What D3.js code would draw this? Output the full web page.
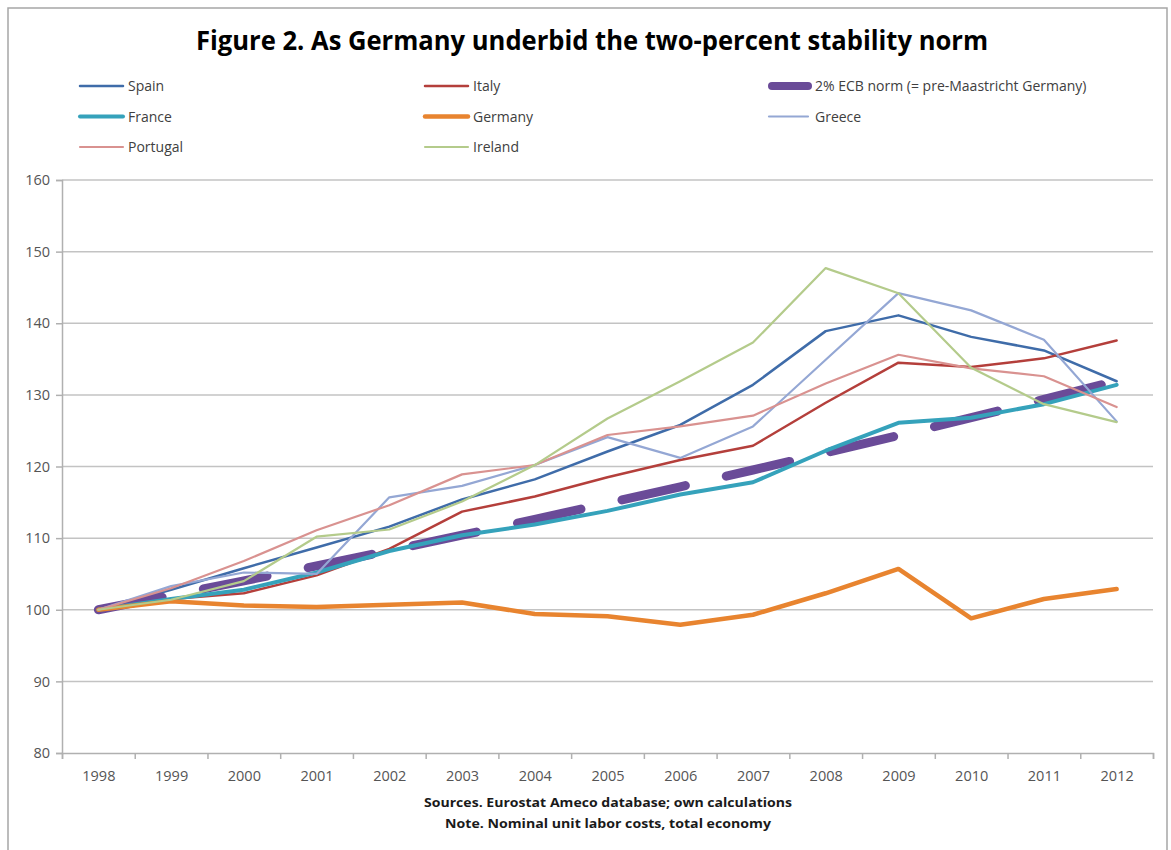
<!DOCTYPE html>
<html>
<head>
<meta charset="utf-8">
<script src="https://cdn.jsdelivr.net/npm/d3@7"></script>
<style>
  body { margin: 0; background: #fff; }
  svg { display: block; font-family: "Open Sans", sans-serif; }
</style>
</head>
<body>
<div class="chart"></div>
<script>
// data
const years = ['1998', '1999', '2000', '2001', '2002', '2003', '2004', '2005',
  '2006', '2007', '2008', '2009', '2010', '2011', '2012'];
const yTicks = [80, 90, 100, 110, 120, 130, 140, 150, 160];

const spain = [100, 102.8, 105.8, 108.7, 111.6, 115.4, 118.2, 122.1, 125.8, 131.4, 138.9, 141.1, 138.1, 136.2, 131.9];
const italy = [100, 101.5, 102.3, 104.8, 108.5, 113.7, 115.8, 118.5, 120.9, 122.9, 128.9, 134.5, 133.9, 135.1, 137.6];
const norm = [100, 102, 104.04, 106.12, 108.24, 110.41, 112.62, 114.87, 117.17, 119.51, 121.9, 124.34, 126.82, 129.36, 131.95];
const france = [100, 101.5, 102.8, 105.2, 108.2, 110.4, 111.9, 113.8, 116.1, 117.8, 122.2, 126.1, 126.8, 128.7, 131.4];
const germany = [100, 101.2, 100.6, 100.4, 100.7, 101.0, 99.4, 99.1, 97.9, 99.3, 102.3, 105.7, 98.8, 101.5, 102.9];
const greece = [100, 103.3, 105.2, 105.0, 115.7, 117.3, 120.2, 124.1, 121.2, 125.6, 134.9, 144.2, 141.8, 137.7, 126.3];
const portugal = [100, 103.0, 106.8, 111.1, 114.6, 118.9, 120.2, 124.4, 125.6, 127.1, 131.6, 135.6, 133.7, 132.6, 128.3];
const ireland = [100, 101.4, 104.0, 110.2, 111.2, 115.1, 120.2, 126.7, 131.9, 137.3, 147.7, 144.2, 133.8, 128.7, 126.2];

// series in legend order (row by row)
const series = [
  { name: 'Spain', values: spain, color: '#3f6ca9', width: 2.5 },
  { name: 'Italy', values: italy, color: '#b43f3b', width: 2.5 },
  { name: '2% ECB norm (= pre-Maastricht Germany)', values: norm, color: '#6a4b98', width: 9, dash: '65,42' },
  { name: 'France', values: france, color: '#35a2bb', width: 4 },
  { name: 'Germany', values: germany, color: '#e8842f', width: 4.5 },
  { name: 'Greece', values: greece, color: '#94a7d4', width: 2.2 },
  { name: 'Portugal', values: portugal, color: '#d99290', width: 2.2 },
  { name: 'Ireland', values: ireland, color: '#b4cb8b', width: 2.2 },
];

const w = 1171;
const h = 850;
const plot = { left: 62, right: 1153, top: 180, bottom: 753 };

const svg = d3.select('.chart')
  .append('svg')
  .attr('width', w)
  .attr('height', h);

// outer frame
svg.append('rect')
  .attr('x', 8).attr('y', 8)
  .attr('width', 1159).attr('height', 860)
  .attr('fill', '#fff')
  .attr('stroke', '#a6a6a6')
  .attr('stroke-width', 1.5);

// title
svg.append('text')
  .attr('x', 196).attr('y', 50)
  .attr('textLength', 792)
  .attr('lengthAdjust', 'spacingAndGlyphs')
  .style('font-size', '26px')
  .style('font-weight', 'bold')
  .style('fill', '#000')
  .text('Figure 2. As Germany underbid the two-percent stability norm');

// scales
const x = d3.scalePoint().domain(years).range([plot.left, plot.right]).padding(0.5);
const xEdge = d3.scaleLinear().domain([0, years.length]).range([plot.left, plot.right]);
const y = d3.scaleLinear().domain([80, 160]).range([plot.bottom, plot.top]);

// gridlines
svg.append('g')
  .selectAll('line')
  .data(yTicks.filter((d) => d !== 80))
  .enter()
  .append('line')
  .attr('x1', plot.left).attr('x2', plot.right)
  .attr('y1', (d) => y(d)).attr('y2', (d) => y(d))
  .attr('stroke', '#c3c3c3')
  .attr('stroke-width', 1.5);

// y axis
const yAxis = svg.append('g')
  .attr('transform', `translate(${plot.left},0)`)
  .call(d3.axisLeft(y).tickValues(yTicks).tickSize(6).tickPadding(6));
yAxis.select('.domain').attr('stroke', '#b0b0b0').attr('stroke-width', 1.5);
yAxis.selectAll('.tick line').attr('stroke', '#b0b0b0').attr('stroke-width', 1.5);
yAxis.selectAll('text')
  .style('font-size', '14.5px')
  .style('fill', '#555')
  .style('font-family', '"Open Sans", sans-serif');

// x axis: boundary ticks + category labels
const xTicks = svg.append('g')
  .attr('transform', `translate(0,${plot.bottom})`)
  .call(d3.axisBottom(xEdge).tickValues(d3.range(years.length + 1))
    .tickSize(6).tickFormat(''));
xTicks.select('.domain').attr('stroke', '#b0b0b0').attr('stroke-width', 1.5);
xTicks.selectAll('.tick line').attr('stroke', '#b0b0b0').attr('stroke-width', 1.5);

const xLabels = svg.append('g')
  .attr('transform', `translate(0,${plot.bottom})`)
  .call(d3.axisBottom(x).tickSize(0).tickPadding(18));
xLabels.select('.domain').remove();
xLabels.selectAll('text')
  .style('font-size', '14.5px')
  .style('fill', '#555')
  .style('font-family', '"Open Sans", sans-serif');

// lines
const line = d3.line()
  .x((d, i) => x(years[i]))
  .y((d) => y(d));

svg.append('g')
  .selectAll('path')
  .data(series)
  .enter()
  .append('path')
  .attr('d', (d) => line(d.values))
  .attr('fill', 'none')
  .attr('stroke', (d) => d.color)
  .attr('stroke-width', (d) => d.width)
  .attr('stroke-dasharray', (d) => d.dash || null)
  .attr('stroke-linecap', 'round')
  .attr('stroke-linejoin', 'round');

// legend (3 columns, row-major)
const legendCols = [80, 425, 769];
const legendRows = [86, 116.5, 147];
const legend = svg.append('g')
  .selectAll('g')
  .data(series)
  .enter()
  .append('g')
  .attr('transform', (d, i) => `translate(${legendCols[i % 3]},${legendRows[Math.floor(i / 3)]})`);

legend.append('line')
  .attr('x1', (d) => (d.dash ? 3 : 0))
  .attr('x2', (d, i) => (i % 3 === 2 ? 39 : 43))
  .attr('y1', 0).attr('y2', 0)
  .attr('stroke', (d) => d.color)
  .attr('stroke-width', (d) => Math.min(d.width, 8))
  .attr('stroke-linecap', 'round');

legend.append('text')
  .attr('x', (d, i) => (i % 3 === 2 ? 46 : 48))
  .attr('y', 5)
  .style('font-size', '14px')
  .style('fill', '#404040')
  .text((d) => d.name);

// footnotes
svg.append('text')
  .attr('x', 608).attr('y', 807)
  .attr('text-anchor', 'middle')
  .attr('textLength', 368)
  .attr('lengthAdjust', 'spacingAndGlyphs')
  .style('font-size', '13px')
  .style('font-weight', 'bold')
  .style('fill', '#1a1a1a')
  .text('Sources. Eurostat Ameco database; own calculations');

svg.append('text')
  .attr('x', 608).attr('y', 828)
  .attr('text-anchor', 'middle')
  .attr('textLength', 326)
  .attr('lengthAdjust', 'spacingAndGlyphs')
  .style('font-size', '13px')
  .style('font-weight', 'bold')
  .style('fill', '#1a1a1a')
  .text('Note. Nominal unit labor costs, total economy');
</script>
</body>
</html>
